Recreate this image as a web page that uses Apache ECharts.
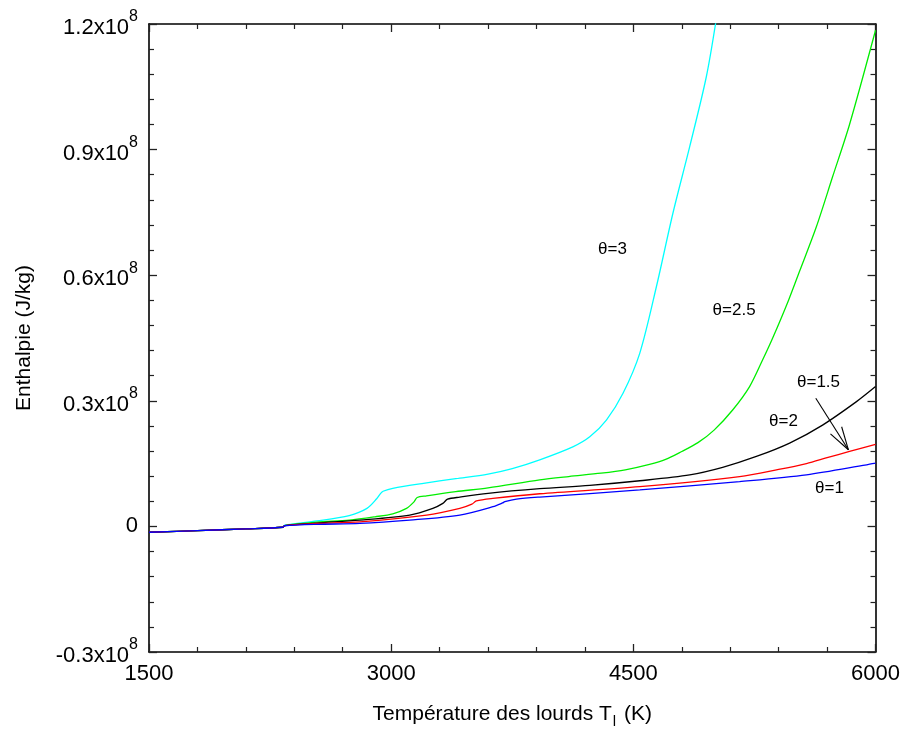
<!DOCTYPE html>
<html><head><meta charset="utf-8">
<script src="https://cdn.jsdelivr.net/npm/echarts@6/dist/echarts.min.js"></script>
<style>html,body{margin:0;padding:0;background:#fff}#c{width:903px;height:740px}</style>
</head><body><div id="c"></div>
<script>
// Axis ticks
const xTickValues = [1500, 3000, 4500, 6000];
const yTickValues = [-30, 0, 30, 60, 90, 120];           // in 10^6 J/kg
const yTickLabels = ['-0.3x10^8', '0', '0.3x10^8', '0.6x10^8', '0.9x10^8', '1.2x10^8'];

// Series: temperature (K) and enthalpy (10^6 J/kg)
const tCyan  = [1500,1800,2100,2330,2340,2540,2740,2850,2910,2935,2950,3010,3200,3400,3600,3750,3920,4125,4230,4333,4436,4540,4643,4745,4849,4952,5015];
const hCyan  = [-1.4,-1.0,-0.6,-0.2,0.3,1.3,2.6,4.3,6.6,7.9,8.4,9.1,10.3,11.4,12.5,13.8,15.9,19.0,21.4,25.4,31.8,41.4,57.3,74.8,90.7,107.4,121.5];

const tGreen = [1500,1800,2100,2330,2340,2540,2740,2900,3010,3095,3140,3161,3219,3400,3600,3920,4100,4300,4450,4600,4700,4800,4900,5000,5115,5220,5301,5363,5462,5530,5633,5734,5839,6000];
const hGreen = [-1.4,-1.0,-0.6,-0.2,0.2,1.0,1.5,2.3,3.0,4.3,5.8,6.9,7.3,8.3,9.2,11.1,11.9,12.7,13.5,14.8,16.0,17.9,20.0,23.0,27.8,33.4,39.8,45.0,54.1,61.0,71.5,83.5,96.0,118.5];

const tBlack = [1500,1800,2100,2330,2340,2540,2806,3115,3258,3320,3349,3425,3600,3920,4230,4540,4849,5053,5262,5468,5672,5882,6000];
const hBlack = [-1.4,-1.0,-0.6,-0.2,0.2,0.8,1.5,2.7,4.3,5.5,6.5,7.0,7.9,9.0,9.8,10.9,12.3,14.1,16.7,19.9,24.2,29.8,33.4];

const tRed   = [1500,1800,2100,2330,2340,2540,2806,3219,3425,3500,3528,3630,3920,4540,5158,5400,5572,5700,5839,6000];
const hRed   = [-1.4,-1.0,-0.6,-0.2,0.2,0.7,1.1,2.7,4.3,5.3,6.1,6.7,7.8,9.5,11.9,13.6,15.0,16.4,17.9,19.6];

const tBlue  = [1500,1800,2100,2330,2340,2540,2806,3115,3425,3630,3690,3704,3776,3920,4540,5158,5572,6000];
const hBlue  = [-1.4,-1.0,-0.6,-0.2,0.15,0.5,0.7,1.5,2.7,4.7,5.6,5.9,6.5,7.0,8.7,10.7,12.3,15.1];

// Curve annotations (text, T, H)
const annText = ['θ=3', 'θ=2.5', 'θ=1.5', 'θ=2', 'θ=1'];
const annT    = [4371, 5124, 5647, 5430, 5715];
const annH    = [66.2, 51.6, 34.3, 25.1, 9.1];
// Arrow (from T,H to T,H)
const arrowFrom = [5630, 30.6];
const arrowTo   = [5832, 18.3];

const FONT = '"Liberation Sans", Arial, sans-serif';
const zip = (a, b) => a.map((v, i) => [v, b[i]]);

function lineSeries(name, t, h, color) {
  return {
    name, type: 'line', data: zip(t, h), showSymbol: false, symbol: 'none',
    smooth: 0.3, clip: true,
    lineStyle: { color, width: 1.3 }, silent: true, z: 3
  };
}

const chart = echarts.init(document.getElementById('c'), null, { renderer: 'canvas' });

const axisCommon = {
  type: 'value',
  axisLine: { show: true, onZero: false, lineStyle: { color: '#000', width: 1.6 } },
  splitLine: { show: false },
  axisTick: { show: true, inside: true, length: 8, lineStyle: { color: '#222', width: 1.3 } },
  minorTick: { show: true, splitNumber: 5, length: 5, lineStyle: { color: '#222', width: 1.2 } },
  minorSplitLine: { show: false }
};

chart.setOption({
  backgroundColor: '#fff',
  animation: false,
  grid: { left: 149, right: 27, top: 24, bottom: 88, containLabel: false },
  xAxis: [
    Object.assign({}, axisCommon, {
      min: 1500, max: 6000, interval: 1500, position: 'bottom',
      axisLabel: { show: true, margin: 11, fontSize: 22, color: '#000', fontFamily: FONT,
        formatter: v => xTickValues.includes(v) ? String(v) : '' },
      name: 'Température des lourds T{sub|l} (K)', nameLocation: 'middle', nameGap: 47,
      nameTextStyle: { fontSize: 21, color: '#000', fontFamily: FONT,
        rich: { sub: { fontSize: 15, color: '#000', fontFamily: FONT, verticalAlign: 'bottom', lineHeight: 30, padding: [0, 2, 0, 1] } } }
    }),
    Object.assign({}, axisCommon, {
      min: 1500, max: 6000, interval: 1500, position: 'top',
      axisLabel: { show: false }
    })
  ],
  yAxis: [
    Object.assign({}, axisCommon, {
      min: -30, max: 120, interval: 30, position: 'left',
      axisLabel: {
        show: true, margin: 11, color: '#000', fontFamily: FONT,
        formatter: v => {
          const i = yTickValues.indexOf(v);
          if (i < 0) return '';
          const parts = yTickLabels[i].split('^');
          return parts.length === 1 ? '{z|' + parts[0] + '}' : '{m|' + parts[0] + '}{s|' + parts[1] + '}';
        },
        rich: {
          z: { fontSize: 22, color: '#000', fontFamily: FONT },
          m: { fontSize: 22, color: '#000', fontFamily: FONT, lineHeight: 30, verticalAlign: 'bottom' },
          s: { fontSize: 16, color: '#000', fontFamily: FONT, lineHeight: 20, verticalAlign: 'top' }
        }
      },
      name: 'Enthalpie (J/kg)', nameLocation: 'middle', nameGap: 114, nameRotate: 90,
      nameTextStyle: { fontSize: 21, color: '#000', fontFamily: FONT }
    }),
    Object.assign({}, axisCommon, {
      min: -30, max: 120, interval: 30, position: 'right',
      axisLabel: { show: false }
    })
  ],
  series: [
    lineSeries('θ=3', tCyan, hCyan, '#00ffff'),
    lineSeries('θ=2.5', tGreen, hGreen, '#00ee00'),
    lineSeries('θ=2', tBlack, hBlack, '#000000'),
    lineSeries('θ=1.5', tRed, hRed, '#ff0000'),
    lineSeries('θ=1', tBlue, hBlue, '#0000ff'),
    {
      type: 'custom', silent: true, z: 5,
      data: annText.map((s, i) => [annT[i], annH[i], i]),
      renderItem: (params, api) => {
        const p = api.coord([api.value(0), api.value(1)]);
        return { type: 'text', x: p[0], y: p[1],
          style: { text: annText[api.value(2)], fill: '#000', font: '17px ' + FONT, align: 'center', verticalAlign: 'middle' } };
      }
    },
    {
      type: 'custom', silent: true, z: 5,
      data: [[arrowFrom[0], arrowFrom[1], arrowTo[0], arrowTo[1]]],
      renderItem: (params, api) => {
        const a = api.coord([api.value(0), api.value(1)]);
        const b = api.coord([api.value(2), api.value(3)]);
        const ang = Math.atan2(b[1] - a[1], b[0] - a[0]);
        const L = 24, da = 16 * Math.PI / 180;
        const w1 = [b[0] - L * Math.cos(ang - da), b[1] - L * Math.sin(ang - da)];
        const w2 = [b[0] - L * Math.cos(ang + da), b[1] - L * Math.sin(ang + da)];
        const st = { stroke: '#000', lineWidth: 1.1, fill: null };
        return { type: 'group', children: [
          { type: 'line', shape: { x1: a[0], y1: a[1], x2: b[0], y2: b[1] }, style: st },
          { type: 'line', shape: { x1: b[0], y1: b[1], x2: w1[0], y2: w1[1] }, style: st },
          { type: 'line', shape: { x1: b[0], y1: b[1], x2: w2[0], y2: w2[1] }, style: st }
        ] };
      }
    }
  ]
});
</script>
</body></html>
